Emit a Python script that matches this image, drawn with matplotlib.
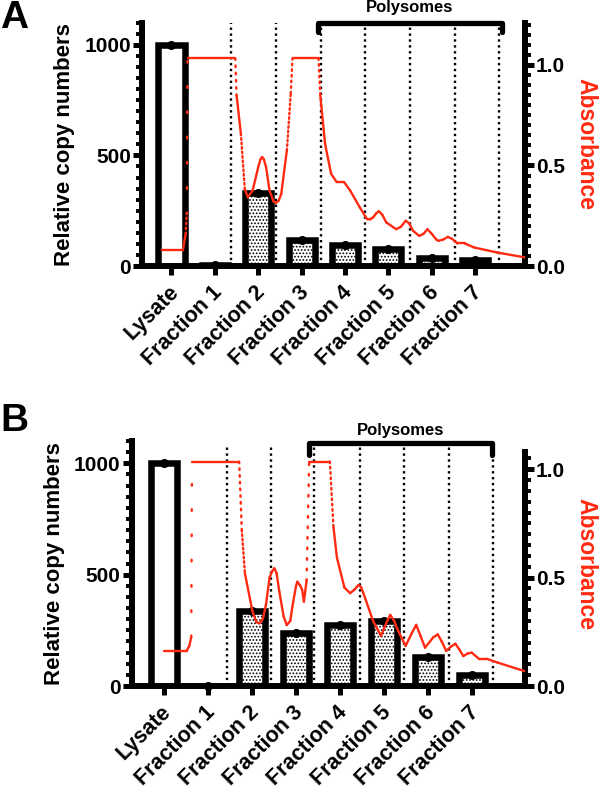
import matplotlib
matplotlib.use("Agg")
import matplotlib.pyplot as plt
from matplotlib.ticker import MultipleLocator, FixedLocator
from matplotlib.transforms import ScaledTranslation

plt.rcParams['font.family'] = ['Liberation Sans', 'DejaVu Sans']
plt.rcParams['font.weight'] = 'bold'
plt.rcParams['hatch.linewidth'] = 0.8

RED = '#ff2a12'

categories = ["Lysate", "Fraction 1", "Fraction 2", "Fraction 3",
              "Fraction 4", "Fraction 5", "Fraction 6", "Fraction 7"]

# Panel A data
copies_a = [1000, 3, 328, 117, 95, 75, 34, 25]
abs_a_x = [-0.22, 0.263, 0.325, 0.352, 0.369, 1.47, 1.50, 1.60, 1.69, 1.76, 1.87,
           2.00, 2.05, 2.09, 2.13, 2.18, 2.26, 2.35, 2.41, 2.47, 2.53, 2.66, 2.75, 2.79,
           3.39, 3.43, 3.54, 3.68, 3.81, 3.98, 4.12, 4.34, 4.51, 4.58, 4.65, 4.72, 4.78,
           4.86, 4.95, 5.18, 5.29, 5.40, 5.48, 5.57, 5.71, 5.81, 5.90, 6.00, 6.10, 6.15,
           6.27, 6.37, 6.47, 6.59, 6.76, 6.98, 7.51, 8.17]
abs_a_y = [0.078, 0.078, 0.158, 0.258, 1.033, 1.033, 0.85, 0.658, 0.383, 0.342, 0.375,
           0.492, 0.530, 0.542, 0.530, 0.492, 0.375, 0.322, 0.313, 0.325, 0.358, 0.575,
           0.858, 1.033, 1.033, 0.85, 0.608, 0.458, 0.417, 0.417, 0.375, 0.292, 0.233,
           0.232, 0.242, 0.262, 0.272, 0.255, 0.217, 0.183, 0.195, 0.225, 0.212, 0.175,
           0.150, 0.160, 0.183, 0.160, 0.133, 0.125, 0.132, 0.145, 0.135, 0.112, 0.112,
           0.092, 0.067, 0.042]
dividers_a = [1.37, 2.42, 3.44, 4.47, 5.51, 6.54, 7.56]
polysomes_a = [3.37, 7.63]

# Panel B data
copies_b = [1000, 0, 337, 237, 274, 292, 130, 49]
abs_b_x = [0.013, 0.517, 0.578, 0.622, 0.639, 1.71, 1.77, 1.84, 2.01, 2.10, 2.17, 2.25,
           2.32, 2.40, 2.46, 2.51, 2.56, 2.62, 2.72, 2.79, 2.87, 2.93, 3.00, 3.03, 3.09,
           3.14, 3.18, 3.24, 3.30, 3.77, 3.85, 3.93, 4.10, 4.23, 4.33, 4.42, 4.48, 4.54,
           4.75, 4.93, 5.05, 5.14, 5.23, 5.32, 5.49, 5.62, 5.73, 5.83, 5.93, 6.12, 6.22,
           6.31, 6.41, 6.52, 6.62, 6.71, 6.80, 6.90, 6.99, 7.15, 7.32, 7.58, 8.23]
abs_b_y = [0.162, 0.162, 0.185, 0.225, 1.035, 1.035, 0.720, 0.520, 0.346, 0.295, 0.289,
           0.310, 0.377, 0.500, 0.530, 0.543, 0.520, 0.438, 0.320, 0.281, 0.300, 0.380,
           0.460, 0.481, 0.465, 0.443, 0.389, 0.485, 1.035, 1.035, 0.735, 0.592, 0.454,
           0.428, 0.445, 0.466, 0.455, 0.423, 0.300, 0.231, 0.290, 0.328, 0.300, 0.254,
           0.185, 0.240, 0.282, 0.230, 0.177, 0.225, 0.238, 0.205, 0.162, 0.182, 0.195,
           0.168, 0.138, 0.150, 0.154, 0.126, 0.126, 0.108, 0.066]
dividers_b = [1.43, 2.43, 3.42, 4.45, 5.45, 6.47, 7.47]
polysomes_b = [3.30, 7.45]

fig = plt.figure(figsize=(6.0, 7.97), dpi=100)


def draw_panel(rect, copies, ax_x, ax_y, dividers, poly, xlim, ylim2, spine2_top,
               div_top, bracket_y, bracket_end, label_text_y, letter, letter_y,
               ylab_x, ylab2_x):
    ax = fig.add_axes(rect)
    ax2 = ax.twinx()
    x = list(range(len(categories)))
    ax.set_xlim(*xlim)
    ax.set_ylim(0, 1100)
    ax2.set_ylim(0, ylim2)

    # dotted dividers
    for d in dividers:
        ax.plot([d, d], [0, div_top], color='black', lw=1.7,
                ls=(0, (1, 1.5)), zorder=1, clip_on=False)

    # bars
    hatches = [None] + ['.....'] * (len(categories) - 1)
    for xi, v, h in zip(x, copies, hatches):
        ax.bar(xi, v, width=0.6, facecolor='white', edgecolor='black', linewidth=4.7,
               hatch=h, zorder=2)
    ax.plot(x, copies, 'o', color='black', ms=5.5, zorder=5, clip_on=False)

    # absorbance curve (steep stretches of the trace are sparse points)
    sx = (rect[2] * 600) / (xlim[1] - xlim[0])
    sy = (rect[3] * 797) / ylim2
    for i in range(len(ax_x) - 1):
        dx = ax_x[i + 1] - ax_x[i]
        dy = ax_y[i + 1] - ax_y[i]
        slope = abs(dy * sy) / max(abs(dx * sx), 1e-6)
        if slope > 14:
            gap = min(max(slope / 12.0, 1.2), 10.0)
            ls = (0, (0.7, gap))
        else:
            ls = '-'
        ax2.plot(ax_x[i:i + 2], ax_y[i:i + 2], color=RED, lw=1.7, ls=ls,
                 solid_capstyle='round', dash_capstyle='round', zorder=4)

    # polysome bracket
    ax.plot([poly[0], poly[0], poly[1], poly[1]],
            [bracket_end, bracket_y, bracket_y, bracket_end],
            color='black', lw=3.8, solid_capstyle='round', solid_joinstyle='round',
            clip_on=False, zorder=6)
    fig.text(rect[0] + rect[2] * ((poly[0] + poly[1]) / 2 - xlim[0]) / (xlim[1] - xlim[0]),
             label_text_y, 'Polysomes', ha='center', va='center', fontsize=12,
             fontweight='bold')

    # spines
    for a in (ax, ax2):
        a.spines['top'].set_visible(False)
    ax.spines['right'].set_visible(False)
    ax2.spines['left'].set_visible(False)
    ax2.spines['bottom'].set_visible(False)
    ax.spines['left'].set_linewidth(4.3)
    ax.spines['bottom'].set_linewidth(4.3)
    ax2.spines['right'].set_linewidth(4.3)
    ax2.spines['right'].set_bounds(0, spine2_top)

    ax.yaxis.set_major_locator(FixedLocator([0, 500, 1000]))
    ax.yaxis.set_minor_locator(MultipleLocator(50))
    ax2.yaxis.set_major_locator(FixedLocator([0.0, 0.5, 1.0]))
    ax2.yaxis.set_minor_locator(FixedLocator([i * 0.05 for i in range(int(spine2_top / 0.05 + 1e-6) + 1)]))
    ax2.set_yticklabels(['0.0', '0.5', '1.0'])

    ax.tick_params(axis='y', which='major', length=6.5, width=3.6, labelsize=15, pad=1.5)
    ax.tick_params(axis='y', which='minor', length=4.3, width=2.8)
    ax2.tick_params(axis='y', which='major', length=6.5, width=3.6, labelsize=15, pad=1.5)
    ax2.tick_params(axis='y', which='minor', length=4.3, width=2.8)
    ax.set_xticks(x)
    ax.set_xticklabels(categories, rotation=45, ha='right', va='center',
                       rotation_mode='anchor', fontsize=15.5, fontweight='bold')
    ax.tick_params(axis='x', which='major', length=6.5, width=3.6, pad=10)
    for lab in ax.get_xticklabels():
        lab.set_transform(lab.get_transform() + ScaledTranslation(3 / 72, 0, fig.dpi_scale_trans))
    for lab in ax.get_yticklabels() + ax2.get_yticklabels():
        lab.set_fontweight('bold')

    ax.set_ylabel('Relative copy numbers', fontsize=16, fontweight='bold')
    ax.yaxis.set_label_coords(ylab_x, 0.5)
    ax2.set_ylabel('Absorbance', fontsize=16.5, fontweight='bold', color=RED,
                   rotation=270, va='center', ha='center')
    ax2.yaxis.set_label_coords(ylab2_x, 0.5)

    ax.set_zorder(1)
    ax2.set_zorder(2)
    ax2.patch.set_visible(False)
    fig.text(0.0, letter_y, letter, fontsize=28, fontweight='bold', va='top', ha='left')
    return ax, ax2


draw_panel([142 / 600, 1 - 266 / 797, 383 / 600, 243.3 / 797], copies_a, abs_a_x, abs_a_y,
           dividers_a, polysomes_a, (-0.68, 8.15), 1.21, 1.21, 1100, 1098, 1060,
           1 - 7.5 / 797, 'A', 1 - 0.5 / 797, -0.175, 1.16)
draw_panel([131.7 / 600, 1 - 686 / 797, 393.3 / 600, 245 / 797], copies_b, abs_b_x, abs_b_y,
           dividers_b, polysomes_b, (-0.73, 8.2), 1.13, 1.08, 1080, 1090, 1038,
           1 - 430 / 797, 'B', 1 - 403 / 797, -0.17, 1.155)

fig.savefig('out.png', dpi=100)
